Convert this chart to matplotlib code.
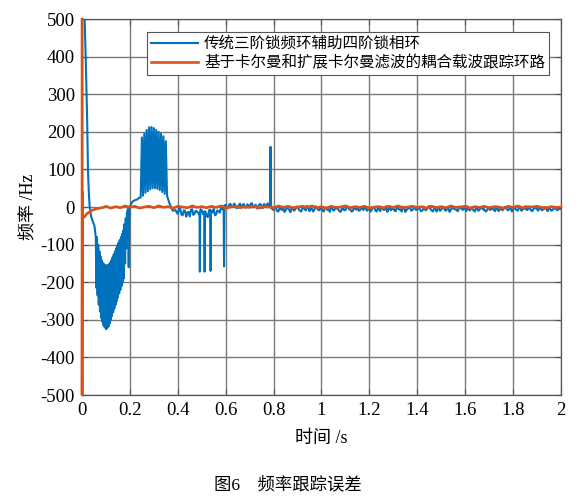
import matplotlib
matplotlib.use('Agg')
import matplotlib.pyplot as plt
import numpy as np

plt.rcParams['font.family'] = ['Liberation Serif', 'Noto Sans CJK SC']
plt.rcParams['axes.unicode_minus'] = False

# --- blue: traditional 3rd-order FLL assisted 4th-order PLL ---
blue_t_start = [0.004, 0.011, 0.016, 0.021, 0.025, 0.029, 0.032, 0.038, 0.046, 0.052]
blue_f_start = [800, 500, 380, 245, 93, 30, 0, -25, -40, -50]

# dense oscillation 0.0575 .. 0.1875 s
band1_f = [-80, -215, -80, -235, -100, -260, -118, -278, -132, -295,
           -142, -305, -149, -315, -152, -320, -155, -325, -156, -322,
           -154, -318, -152, -310, -148, -300, -142, -290, -134, -280,
           -126, -270, -118, -260, -110, -250, -102, -240, -95, -230,
           -88, -220, -80, -210, -72, -200, -62, -190, -45, -150,
           -30, -110, -15]
band1_t = np.linspace(0.0575, 0.1875, len(band1_f))

mid_t = [0.192, 0.195, 0.197, 0.200, 0.205, 0.212, 0.220, 0.230, 0.240]
mid_f = [-5, -160, -30, 0, 8, 15, 18, 20, 25]

# oscillation 0.245 .. 0.38 s
band2_f = [25, 185, 30, 195, 38, 205, 42, 212, 47, 213,
           50, 210, 50, 205, 48, 200, 45, 195, 40, 188,
           35, 175, 30, 20, 10, 3, -5, -10]
band2_t = np.linspace(0.245, 0.38, len(band2_f))

# steady part 0.39 .. 2.0 s (two interleaved sample sets)
noise_f = [-8, -18, -5, -22, -10, -15, -25, -6, -17, -12,
           -20, -8, -14, -24, -9, -16, -5, -20, -11, -4,
           2, 6, -3, 8, 1, 5, -2, 9, 3, -1,
           7, 0, 10, 2, -4, 6, 3, 8, -1, 5,
           -2, -8, -3, -12, -5, 1, -9, -4, -14, -2,
           -7, 0, -10, -4, -6, 3, -11, -5, -8, -1,
           -9, -3, -12, -2, -6, 2, -10, -5, -7, -13,
           -3, -8, 1, -6, -11, -4, -2, -9, -5, 0,
           -10, -4, -7, -1, -12, -5, -3, -8, 2, -6,
           -9, -2, -11, -4, -6, 1, -13, -5, -3, -8,
           0, -7, -4, -10, -2, -6, 3, -9, -5, -12,
           -3, -7, 0, -10, -4, -8, -1, -6, -11, -2,
           -8, -4, 2, -9, -5, -12, -3, -7, 0, -6,
           -10, -2, -5, -8, 1, -11, -4, -6, -3, -9,
           -1, -7, -5, -10, -2, -6, 2, -8, -4, -11,
           -3, -6, 0, -9, -5, -7, -2, -10, -4, -6,
           -3, -5]
noise_t = np.linspace(0.39, 2.0, len(noise_f))

noise2_f = [-14, -4, -20, -9, -26, -13, -7, -21, -10, -16,
            -6, -19, -12, -27, -7, -14, -22, -9, -15, -6,
            4, -2, 7, 0, 9, -3, 5, 1, 8, -2,
            4, 9, -1, 6, 1, 8, -3, 5, 10, 0,
            -6, 0, -11, -3, -8, -13, -1, -7, -4, -10,
            1, -6, -12, -3, -9, -2, -5, -12, 2, -7,
            -4, -10, -1, -8, -13, -3, -6, 0, -11, -5,
            -9, 2, -6, -12, -2, -7, -10, -1, -8, -4,
            -6, -12, 0, -9, -4, -11, -2, -7, -13, -3,
            -5, -10, 1, -7, -12, -3, -8, -1, -10, -4,
            -8, -2, -11, -5, -9, 0, -6, -12, -3, -7,
            -10, -1, -8, -4, -13, -2, -6, -9, 1, -5,
            -3, -11, -6, -1, -9, -4, -10, -2, -7, -12,
            -5, -8, -1, -11, -6, -3, -9, 0, -7, -4,
            -12, -3, -8, -1, -10, -5, -7, -2, -9, -6,
            -2, -10, -4, -7, 0, -11, -5, -8, -3, -9,
            -6]
noise2_t = np.linspace(0.395, 1.995, len(noise2_f))

spike_t = [0.4905, 0.492, 0.4935, 0.5105, 0.512, 0.5135, 0.5355, 0.537, 0.5385,
           0.5915, 0.593, 0.5945, 0.7855, 0.787, 0.788, 0.7895]
spike_f = [-15, -172, -15, -12, -172, -12, -15, -170, -10,
           -8, -158, -5, 5, 160, 40, 10]

# --- orange: Kalman + EKF coupled carrier tracking loop ---
orange_t_start = [0, 0.0003, 0.0015, 0.003, 0.006, 0.012, 0.02, 0.033, 0.045, 0.06, 0.075, 0.09]
orange_f_start = [500, -500, 40, -30, -28, -25, -18, -12, -8, -5, -3, -1]
orange_noise_f = [2, -3, 1, -2, 3, -1, 2, -3, 0, 2,
                  -2, 3, -1, 1, -3, 2, 0, -2, 3, -1,
                  1, -2, 2, -1, 3, -3, 0, 2, -2, 1,
                  -1, 2, -3, 1, 0, -2, 3, -1, 2, -2,
                  0, 2, -1, 3, -2, 1, -3, 2, -1, 0,
                  3, -2, 1, -1, 2, -3, 0, 1, -2, 2,
                  -1, 3, -2, 0, 2, -1, 1, -3, 2, -1,
                  1, -2, 3, -1, 0, 2, -3, 1, -1, 2,
                  -2, 1, 0, -3, 2, -1, 3, -2, 1, 0,
                  2, -1, -2, 1, -1, 0]
orange_noise_t = np.linspace(0.1, 2.0, len(orange_noise_f))

tail_t = np.concatenate([noise_t, noise2_t, spike_t])
tail_f = np.concatenate([noise_f, noise2_f, spike_f])
order = np.argsort(tail_t)
blue_t = np.concatenate([blue_t_start, band1_t, mid_t, band2_t, tail_t[order]])
blue_f = np.concatenate([blue_f_start, band1_f, mid_f, band2_f, tail_f[order]])

orange_t = np.concatenate([orange_t_start, orange_noise_t])
orange_f = np.concatenate([orange_f_start, orange_noise_f])

fig = plt.figure(figsize=(5.88, 5.0), dpi=100)
ax = fig.add_axes([0.1395, 0.21, 0.8145, 0.752])

ax.plot(blue_t, blue_f, color='#0072BD', lw=1.5, zorder=3,
        label='传统三阶锁频环辅助四阶锁相环')
ax.plot(orange_t, orange_f, color='#D95319', lw=1.9, zorder=4, clip_on=False,
        label='基于卡尔曼和扩展卡尔曼滤波的耦合载波跟踪环路')

ax.set_xlim(0, 2)
ax.set_ylim(-500, 500)
ax.set_xticks(np.arange(0, 2.01, 0.2))
ax.set_xticklabels(['0', '0.2', '0.4', '0.6', '0.8', '1', '1.2', '1.4', '1.6', '1.8', '2'])
ax.set_yticks(np.arange(-500, 501, 100))
ax.grid(True, color='#7a7a7a', lw=1.0)
ax.set_axisbelow(True)
for s in ax.spines.values():
    s.set_color('#555555')
    s.set_linewidth(0.9)
ax.tick_params(direction='in', length=4, labelsize=13.5, color='#555555',
               top=True, right=True, pad=5)

ax.set_xlabel('时间 /s', fontsize=13, labelpad=8)
ax.set_ylabel('频率 /Hz', fontsize=13, labelpad=2)

leg = ax.legend(loc='upper right', bbox_to_anchor=(0.975, 0.965), borderaxespad=0,
                fontsize=11.2, fancybox=False, framealpha=1, edgecolor='#555555',
                handlelength=3.0, labelspacing=0.2, borderpad=0.25, handletextpad=0.4)
leg.get_frame().set_linewidth(0.8)
leg.set_zorder(5)

fig.text(0.49, 0.03, '图6    频率跟踪误差', fontsize=12.5, ha='center', va='center')

fig.savefig('out.png', dpi=100)
